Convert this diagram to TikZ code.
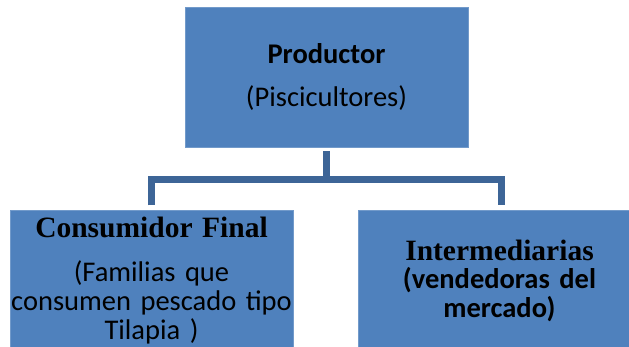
\documentclass[tikz,border=0pt]{standalone}
\usepackage{fontspec}
\newfontfamily\calib{Carlito}
\newfontfamily\camb{Liberation Serif}
\usetikzlibrary{positioning}
\definecolor{boxblue}{HTML}{4F81BD}
\definecolor{lineblue}{HTML}{3D6597}
\tikzstyle{box} = [fill=boxblue,draw=boxblue!80!white,line width=0.6pt,minimum width=283pt,inner sep=0pt]
\tikzstyle{txt} = [inner sep=0pt,text width=320pt,align=center,font=\calib\fontsize{28.5}{29}\selectfont]
\tikzstyle{link} = [line width=6.5pt,draw=lineblue]

\begin{document}
\begin{tikzpicture}
						\useasboundingbox (0,0) rectangle (629pt,-347pt);
						\clip (0,0) rectangle (629pt,-347pt);

						%Nodes
						\node [box,minimum height=140pt] (prod) at (326.5pt,-77pt) {};
						\node [box,minimum height=160pt,below=63pt of prod,xshift=-175pt] (cons) {};
						\node [box,minimum height=160pt,below=63pt of prod,xshift=173pt] (inter) {};

						\node [txt,below=37pt of prod.north] (prodT) {{\bfseries Productor}\\[14pt](Piscicultores)};
						\node [txt,below=7pt of cons.north] (consT) {{\camb\bfseries\fontsize{29.5}{29}\selectfont Consumidor Final}\\[15pt](Familias que\\consumen pescado tipo\\Tilapia )};
						\node [txt,below=30pt of inter.north] (interT) {{\camb\bfseries\fontsize{29.5}{28}\selectfont Intermediarias}\\[-1pt]{\bfseries (vendedoras del\\mercado)}};

						\coordinate [below=32pt of prod.south] (fork);

						%Lines
						\draw[link] ([yshift=-4pt]prod.south) -- (fork);
						\draw[link] ([yshift=5pt]cons.north) |- (fork) -| ([xshift=2pt,yshift=5pt]inter.north);
					\end{tikzpicture}
\end{document}
